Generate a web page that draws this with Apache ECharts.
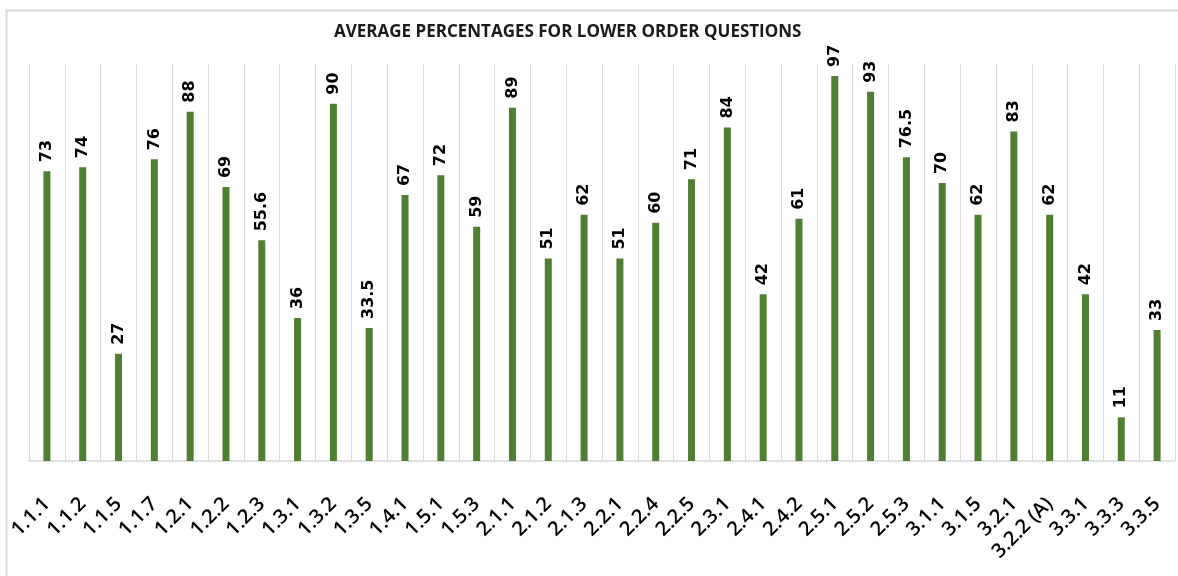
<!DOCTYPE html>
<html>
<head>
<meta charset="utf-8">
<script src="https://cdn.jsdelivr.net/npm/echarts@6/dist/echarts.min.js"></script>
<style>
  html, body { margin: 0; padding: 0; background: #fff; }
  #chart { width: 1178px; height: 576px; }
</style>
</head>
<body>
<div id="chart"></div>
<script>
const categories = ['1.1.1', '1.1.2', '1.1.5', '1.1.7', '1.2.1', '1.2.2', '1.2.3', '1.3.1', '1.3.2', '1.3.5',
  '1.4.1', '1.5.1', '1.5.3', '2.1.1', '2.1.2', '2.1.3', '2.2.1', '2.2.4', '2.2.5', '2.3.1',
  '2.4.1', '2.4.2', '2.5.1', '2.5.2', '2.5.3', '3.1.1', '3.1.5', '3.2.1', '3.2.2 (A)', '3.3.1',
  '3.3.3', '3.3.5']
const averages = [73, 74, 27, 76, 88, 69, 55.6, 36, 90, 33.5,
  67, 72, 59, 89, 51, 62, 51, 60, 71, 84,
  42, 61, 97, 93, 76.5, 70, 62, 83, 62, 42,
  11, 33]
const chartTitle = 'AVERAGE PERCENTAGES FOR LOWER ORDER QUESTIONS'

const gridColor = '#d9d9d9'
const barColor = '#507e32'

const chart = echarts.init(document.getElementById('chart'))

chart.setOption({
  backgroundColor: '#fff',
  animation: false,
  title: {
    text: chartTitle,
    left: 329,
    top: 19,
    textStyle: { fontFamily: 'Open Sans', fontWeight: 'bold', fontSize: 17, color: '#1a1a1a' }
  },
  graphic: [{
    type: 'rect',
    shape: { x: 6.5, y: 10.5, width: 1300, height: 700 },
    style: { fill: 'none', stroke: gridColor, lineWidth: 2 },
    silent: true
  }],
  grid: { left: 29, right: 3, top: 64, bottom: 115, containLabel: false },
  xAxis: {
    type: 'category',
    data: categories,
    axisLine: { lineStyle: { color: gridColor, width: 1.5 } },
    axisTick: { show: false },
    splitLine: { show: true, lineStyle: { color: gridColor, width: 1 } },
    axisLabel: {
      interval: 0,
      rotate: 45,
      margin: 40,
      color: '#000',
      fontFamily: 'Open Sans',
      fontWeight: 600,
      fontSize: 20
    }
  },
  yAxis: {
    type: 'value',
    min: 0,
    max: 100,
    show: false,
    splitLine: { show: false }
  },
  series: [{
    type: 'bar',
    data: averages,
    barWidth: 7,
    itemStyle: { color: barColor },
    label: {
      show: true,
      position: 'top',
      rotate: 90,
      align: 'left',
      verticalAlign: 'middle',
      distance: 9,
      color: '#000',
      fontFamily: 'DejaVu Sans',
      fontWeight: 'bold',
      fontSize: 16
    }
  }]
})
</script>
</body>
</html>
